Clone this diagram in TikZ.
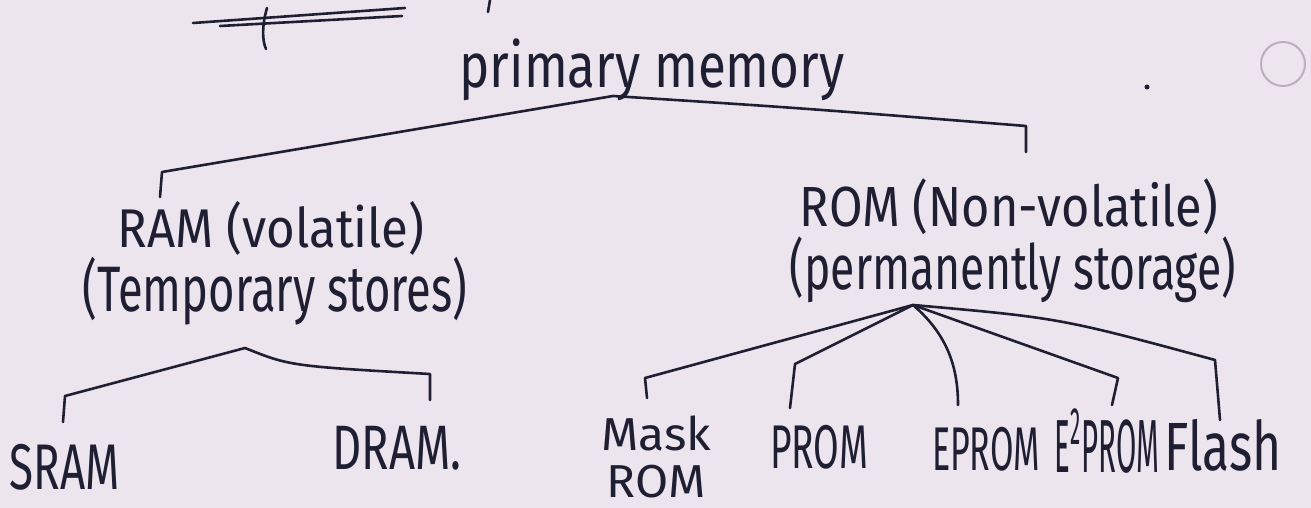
\documentclass[tikz,border=0pt]{standalone}
\usepackage{fontspec}
\setmainfont{Fira Sans}
\usepackage{graphicx}
\definecolor{paper}{HTML}{EDE5ED}
\definecolor{ink}{HTML}{1F1F33}
\definecolor{faint}{HTML}{B9B0BC}
% fit a handwritten-looking label into a given width and total height
\newcommand{\penfit}[3]{\resizebox*{#1}{#2}{#3}}
\begin{document}
\begin{tikzpicture}[x=0.5pt,y=-0.5pt,
  hand/.style={inner sep=0pt, text=ink},
  wire/.style={draw=ink, line width=1.3pt, line cap=round, line join=round}]
\fill[paper] (0,0) rectangle (1311,508);
\useasboundingbox (0,0) rectangle (1311,508);

% remains of the heading above, cut by the page edge
\draw[wire] (193,23) -- (405,8);
\draw[wire] (220,26) -- (402,16);
\draw[wire] (267,8) .. controls (262,25) and (262,40) .. (266,49);
\draw[wire] (490,0) -- (488,12);
\draw[faint, line width=1pt] (1283,64) circle (22);
\fill[ink] (1147,87) circle (2.5);

% labels
\node[hand] (prim)   at (652,70)  {\penfit{192.5pt}{31pt}{primary memory}};
\node[hand] (ram1)   at (271,228) {\penfit{153.5pt}{27pt}{RAM (volatile)}};
\node[hand] (ram2)   at (275,291) {\penfit{192.5pt}{34pt}{(Temporary stores)}};
\node[hand] (rom1)   at (1009,207){\penfit{209pt}{28pt}{ROM (Non-volatile)}};
\node[hand] (rom2)   at (1013,270){\penfit{223pt}{33pt}{(permanently storage)}};
\node[hand] (sram)   at (65,467)  {\penfit{55pt}{23pt}{SRAM}};
\node[hand] (dram)   at (397,448) {\penfit{64.5pt}{22pt}{DRAM.}};
\node[hand] (mask)   at (656,457) {\penfit{55pt}{41pt}{\shortstack{Mask\\ROM}}};
\node[hand] (prom)   at (819,447) {\penfit{49pt}{22pt}{PROM}};
\node[hand] (eprom)  at (986,449) {\penfit{54pt}{22pt}{EPROM}};
\node[hand] (eeprom) at (1107,441){\penfit{52.5pt}{32pt}{E\textsuperscript{2}PROM}};
\node[hand] (flash)  at (1223,445){\penfit{58.5pt}{26pt}{Flash}};

% branching points and bracket corners
\coordinate (hubP) at (613,96);
\coordinate (ramC) at (162,172);  \coordinate (ramE) at (160,197);
\coordinate (romC) at (1026,126); \coordinate (romE) at (1026,152);
\coordinate (hubR) at (245,348);
\coordinate (sramC) at (65,396);  \coordinate (sramE) at (63,422);
\coordinate (dramC) at (430,374); \coordinate (dramE) at (430,400);
\coordinate (hubM) at (913,305);
\coordinate (maskC) at (645,378); \coordinate (maskE) at (647,398);
\coordinate (promC) at (795,364); \coordinate (promE) at (790,408);
\coordinate (epromE) at (958,405);
\coordinate (eepromC) at (1118,378); \coordinate (eepromE) at (1112,405);
\coordinate (flashC) at (1215,360); \coordinate (flashE) at (1220,420);

% primary memory -> RAM / ROM
\draw[wire] (hubP) -- (ramC) -- (ramE);
\draw[wire] (hubP) .. controls (800,108) .. (romC) -- (romE);

% RAM -> SRAM / DRAM
\draw[wire] (hubR) -- (sramC) -- (sramE);
\draw[wire] (hubR) .. controls (290,366) .. (dramC) -- (dramE);

% ROM -> its five kinds
\draw[wire] (hubM) -- (maskC) -- (maskE);
\draw[wire] (hubM) -- (promC) -- (promE);
\draw[wire] (hubM) .. controls (948,335) and (958,368) .. (epromE);
\draw[wire] (hubM) -- (eepromC) -- (eepromE);
\draw[wire] (hubM) .. controls (1060,318) .. (flashC) -- (flashE);
\end{tikzpicture}
\end{document}
